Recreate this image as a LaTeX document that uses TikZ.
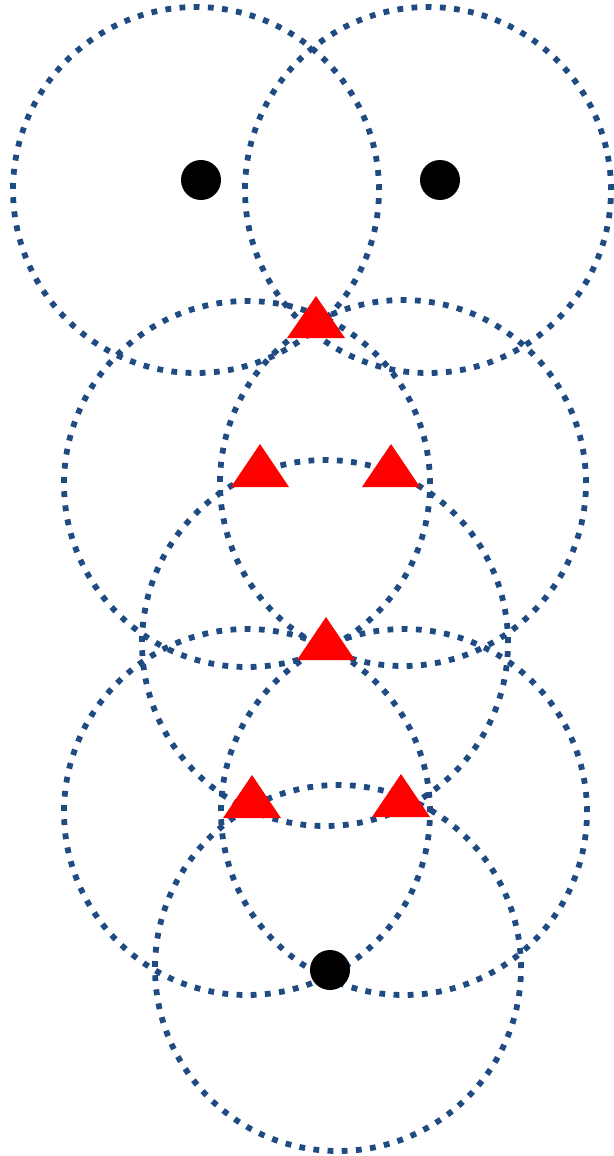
\documentclass[tikz,border=0pt]{standalone}
\usetikzlibrary{shapes.geometric}
\definecolor{ringblue}{RGB}{31,75,130}
\definecolor{trired}{RGB}{255,0,0}
\begin{document}
\begin{tikzpicture}[x=1pt,y=-1pt,
  ring/.style={circle,draw=ringblue,line width=5.8pt,dash pattern=on 5.8pt off 8.4pt,minimum size=366pt,inner sep=0pt},
  anchorpt/.style={circle,fill=black,minimum size=40pt,inner sep=0pt},
  tri/.style={fill=trired}]
\useasboundingbox (0,0) rectangle (613,1156);
% rings
\node[ring] (r1) at (196,190) {};
\node[ring] (r2) at (428,190) {};
\node[ring] (r3) at (247,484) {};
\node[ring] (r4) at (403,483) {};
\node[ring] (r5) at (325,643) {};
\node[ring] (r6) at (247,812) {};
\node[ring] (r7) at (404,812) {};
\node[ring] (r8) at (338,968) {};
% anchors
\node[anchorpt] (a1) at (201,180) {};
\node[anchorpt] (a2) at (440,180) {};
\node[anchorpt] (a3) at (330,970) {};
% estimated positions (triangles)
\fill[tri] (287,338) -- ++(29,-42) -- ++(29,42) -- cycle;
\fill[tri] (231,487) -- ++(29,-43) -- ++(29,43) -- cycle;
\fill[tri] (362,487) -- ++(29,-43) -- ++(29,43) -- cycle;
\fill[tri] (297,660) -- ++(29,-43) -- ++(29,43) -- cycle;
\fill[tri] (223,818) -- ++(29,-43) -- ++(29,43) -- cycle;
\fill[tri] (372,817) -- ++(29,-43) -- ++(29,43) -- cycle;
\end{tikzpicture}
\end{document}
